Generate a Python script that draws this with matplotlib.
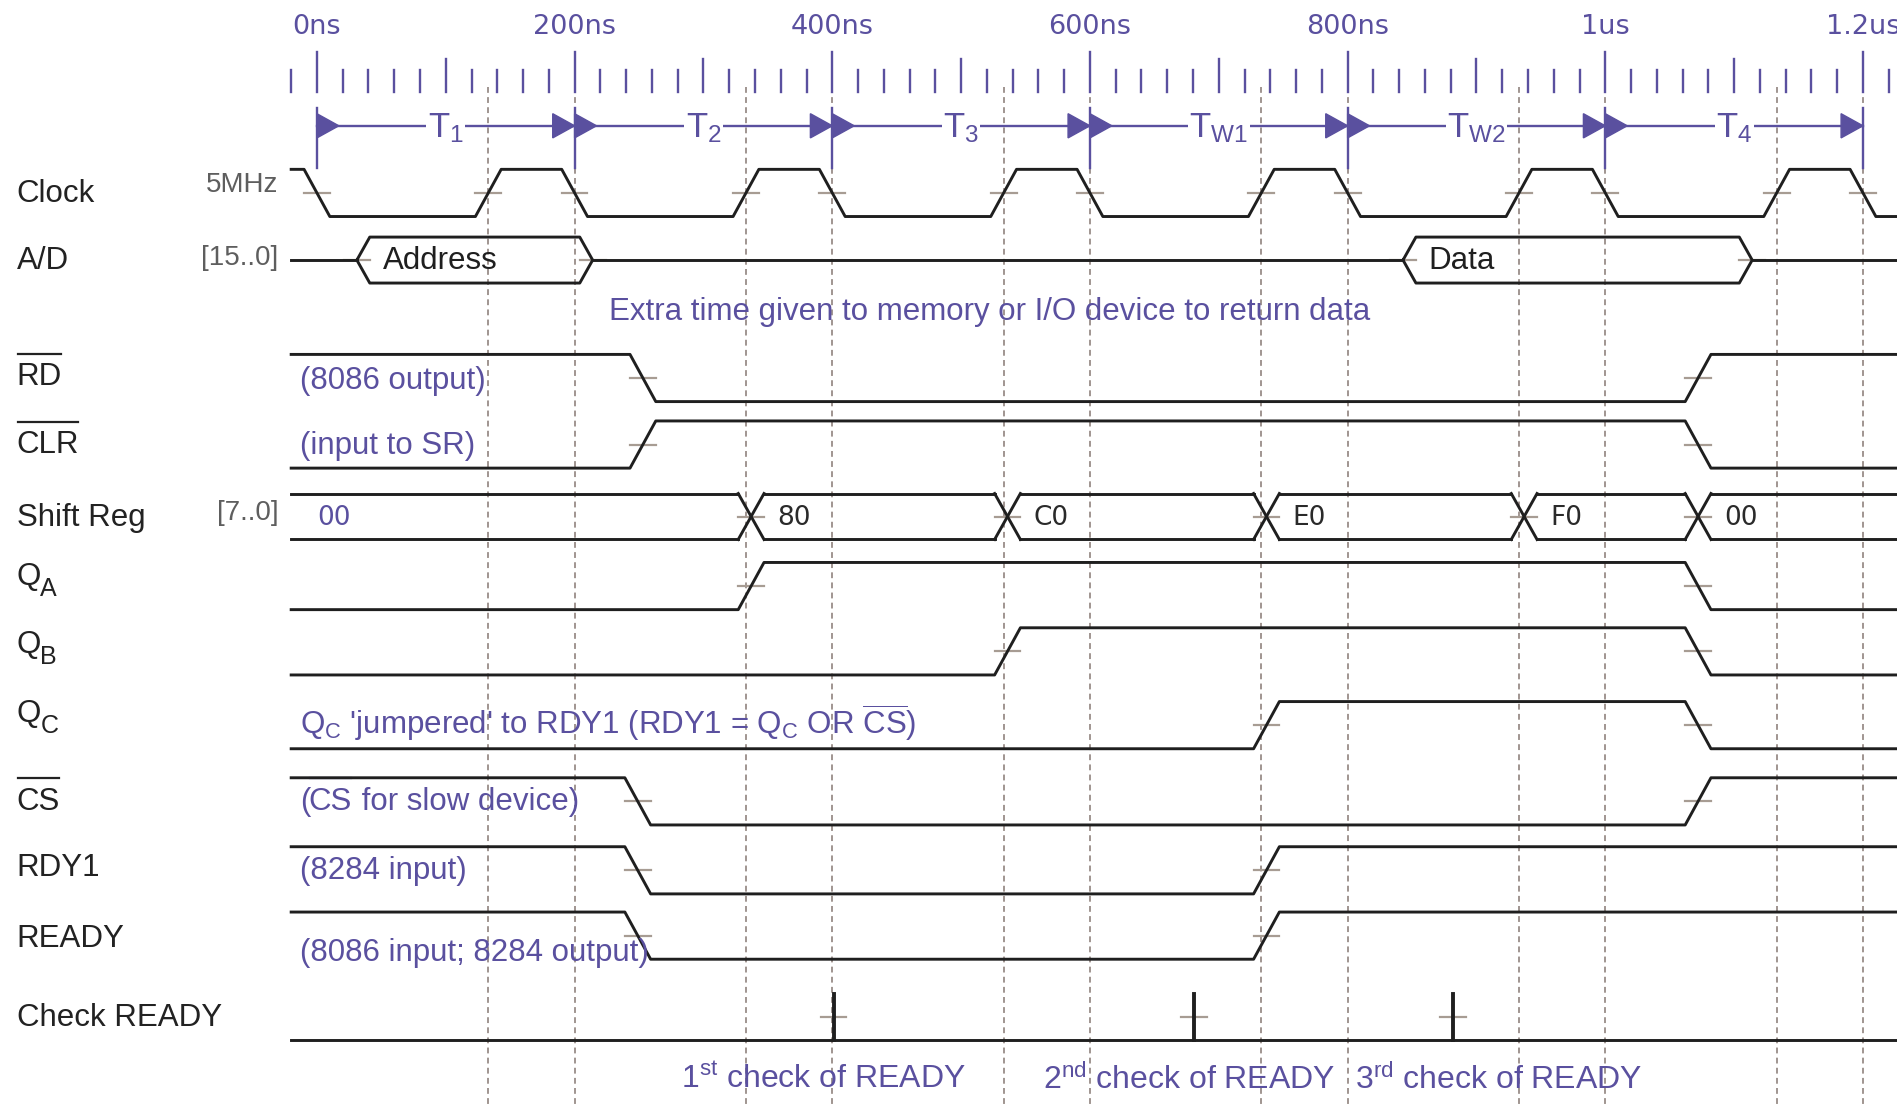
import matplotlib.pyplot as plt
import numpy as np
from matplotlib.patches import Polygon

plt.rcParams['font.family'] = ['Liberation Sans', 'DejaVu Sans']
plt.rcParams['mathtext.fontset'] = 'custom'
plt.rcParams['mathtext.rm'] = 'Liberation Sans'
plt.rcParams['mathtext.it'] = 'Liberation Sans:italic'
plt.rcParams['mathtext.bf'] = 'Liberation Sans:bold'

# --- time scale (ns) ---
time_labels = ["0ns", "200ns", "400ns", "600ns", "800ns", "1us", "1.2us"]
time_label_at = [0, 200, 400, 600, 800, 1000, 1200]
period_names = ["1", "2", "3", "W1", "W2", "4"]
period_bounds = [0, 200, 400, 600, 800, 1000, 1200]

# --- 5MHz clock edges (ns) ---
clock_fall = [0, 200, 400, 600, 800, 1000, 1200]
clock_rise = [133, 333, 533, 733, 933, 1133]

# --- digital signals: level at start + edge times (ns) ---
rd_start, rd_edges = 1, [253, 1072]
clr_start, clr_edges = 0, [253, 1072]
qa_start, qa_edges = 0, [337, 1072]
qb_start, qb_edges = 0, [536, 1072]
qc_start, qc_edges = 0, [737, 1072]
cs_start, cs_edges = 1, [249, 1072]
rdy1_start, rdy1_edges = 1, [249, 737]
ready_start, ready_edges = 1, [249, 737]

# --- buses ---
ad_windows = [(31, 214), (843, 1114)]
ad_values = ["Address", "Data"]
sr_changes = [337, 536, 737, 937, 1072]
sr_values = ["00", "80", "C0", "E0", "F0", "00"]

# --- READY sampling points ---
check_times = [401, 681, 882]
check_labels = [r"1$^{\mathrm{st}}$ check of READY",
                r"2$^{\mathrm{nd}}$ check of READY",
                r"3$^{\mathrm{rd}}$ check of READY"]
check_label_x = [393, 677, 917]

PURPLE = '#5a509f'
INK = '#1f1f1f'
TAN = '#a79c93'
DASH = '#a09590'
LW = 2.1

T0, T1 = -20, 1240   # where traces start / end
SLOPE = 10           # half transition width, ns
H = 39               # high-to-low distance (layout px)

fig = plt.figure(figsize=(18.97, 11.08), dpi=100)
ax = fig.add_axes([0, 0, 1, 1])
ax.set_xlim(-246, 1226.4)
ax.set_ylim(916, 0)
ax.axis('off')
renderer = fig.canvas.get_renderer()


def cross(t, y):
    ax.plot([t - 10, t + 10], [y, y], color=TAN, lw=1.6, zorder=2)


def wave(start, edges, top):
    lvl = start
    xs, ys = [T0], [top if lvl else top + H]
    for te in edges:
        y0 = top if lvl else top + H
        lvl = 1 - lvl
        y1 = top if lvl else top + H
        xs += [te - SLOPE, te + SLOPE]
        ys += [y0, y1]
        cross(te, top + H / 2)
    xs.append(T1)
    ys.append(top if lvl else top + H)
    ax.plot(xs, ys, color=INK, lw=LW, zorder=3)


def sub_label(x, y, main, sub, size, color, dx, dy):
    ax.text(x, y, main, color=color, fontsize=size, va='center')
    ax.annotate(sub, xy=(x, y), xytext=(dx, dy), textcoords='offset points',
                color=color, fontsize=size * 0.8, va='center')


def bar_label(x, y, s, bar_y, size, color):
    # active-low name with a bar drawn a little above the letters
    t = ax.text(x, y, s, color=color, fontsize=size, va='center')
    bb = t.get_window_extent(renderer).transformed(ax.transData.inverted())
    ax.plot([bb.x0 + 1, bb.x1 - 1], [bar_y, bar_y], color=color, lw=1.6)


# dashed guide lines at clock edges (after first rising edge)
guides = sorted(clock_rise + clock_fall[1:])
for t in guides:
    ax.plot([t, t], [72, 916], color=DASH, lw=1.4, dashes=(3, 2.2), zorder=1)

# time ruler
for t in np.arange(-20, 1221, 20):
    if t % 200 == 0:
        top = 43
    elif t % 100 == 0:
        top = 49
    else:
        top = 58
    ax.plot([t, t], [top, 76], color=PURPLE, lw=1.7)
for t, s in zip(time_label_at, time_labels):
    ax.text(t, 22, s, color=PURPLE, fontsize=19.5, family='DejaVu Sans',
            ha='center', va='center')

# bus cycle periods
ay = 104
for b in period_bounds:
    ax.plot([b, b], [89, 139], color=PURPLE, lw=1.7, zorder=4)
for i, name in enumerate(period_names):
    a, b = period_bounds[i], period_bounds[i + 1]
    ax.plot([a, b], [ay, ay], color=PURPLE, lw=1.7, zorder=4)
    ax.add_patch(Polygon([[a, ay - 10], [a, ay + 10], [a + 17, ay]],
                         color=PURPLE, zorder=4))
    ax.add_patch(Polygon([[b - 17, ay - 10], [b - 17, ay + 10], [b, ay]],
                         color=PURPLE, zorder=4))
    label = r"T$_{\mathrm{%s}}$" % name
    ax.text((a + b) / 2, ay + 2, label, color=PURPLE, fontsize=25,
            ha='center', va='center', zorder=5,
            bbox=dict(facecolor='white', edgecolor='none', pad=1))

# clock
clk_edges = sorted(clock_fall + clock_rise)
wave(1, clk_edges, 140)

# A/D bus
c, top, bot = 215, 196, 234
prev = T0
for (a, b), v in zip(ad_windows, ad_values):
    ax.plot([prev, a], [c, c], color=INK, lw=LW, zorder=3)
    ax.plot([a, a + SLOPE, b - SLOPE, b, b - SLOPE, a + SLOPE, a],
            [c, top, top, c, bot, bot, c], color=INK, lw=LW, zorder=3)
    cross(a, c)
    cross(b, c)
    ax.text(a + 20, c + 1, v, fontsize=22.5, color=INK, va='center', zorder=5)
    prev = b
ax.plot([prev, T1], [c, c], color=INK, lw=LW, zorder=3)

ax.text(227, 258, "Extra time given to memory or I/O device to return data",
        color=PURPLE, fontsize=22.5, va='center')

# control lines
wave(rd_start, rd_edges, 293)
wave(clr_start, clr_edges, 348)

# shift register bus
top, bot = 408, 446
c = (top + bot) / 2
bounds = [T0] + sr_changes + [T1]
for i in range(len(sr_values)):
    a, b = bounds[i], bounds[i + 1]
    xa = a + SLOPE if i > 0 else a
    xb = b - SLOPE if i < len(sr_values) - 1 else b
    ax.plot([xa, xb], [top, top], color=INK, lw=LW, zorder=3)
    ax.plot([xa, xb], [bot, bot], color=INK, lw=LW, zorder=3)
for t in sr_changes:
    ax.plot([t - SLOPE, t + SLOPE], [top, bot], color=INK, lw=LW, zorder=3)
    ax.plot([t - SLOPE, t + SLOPE], [bot, top], color=INK, lw=LW, zorder=3)
    cross(t, c)
ax.text(0, c + 1, sr_values[0], color=PURPLE, fontsize=19,
        family='DejaVu Sans', va='center')
for t, v in zip(sr_changes, sr_values[1:]):
    ax.text(t + 20, c + 1, v, color='#2a2a2a', fontsize=19,
            family='DejaVu Sans', va='center')

wave(qa_start, qa_edges, 465)
wave(qb_start, qb_edges, 519)
wave(qc_start, qc_edges, 580)
wave(cs_start, cs_edges, 643)
wave(rdy1_start, rdy1_edges, 700)
wave(ready_start, ready_edges, 754)

# READY checks
ax.plot([T0, T1], [860, 860], color=INK, lw=LW, zorder=3)
for t in check_times:
    ax.plot([t, t], [822, 860], color=INK, lw=2.8, zorder=3)
    cross(t, 841)
for x, s in zip(check_label_x, check_labels):
    ax.text(x, 893, s, color=PURPLE, fontsize=23, ha='center', va='center')

# notes next to traces
notes = [("(8086 output)", 315), ("(input to SR)", 369),
         (r"Q$_\mathrm{C}$ 'jumpered' to RDY1 (RDY1 = Q$_\mathrm{C}$ OR $\overline{\mathrm{CS}}$)", 597),
         ("(8284 input)", 720), ("(8086 input; 8284 output)", 788)]
for s, y in notes:
    ax.text(-13, y, s, color=PURPLE, fontsize=22.5, va='center', zorder=5)
ax.text(-13, 663, "(", color=PURPLE, fontsize=22.5, va='center', zorder=5)
bar_label(-6.5, 663, "CS", 643, 22.5, PURPLE)
ax.text(28, 663, " for slow device)", color=PURPLE, fontsize=22.5,
        va='center', zorder=5)

# signal names
names = [("Clock", 160), ("A/D", 216), ("Shift Reg", 428),
         ("RDY1", 718), ("READY", 776), ("Check READY", 842)]
for s, y in names:
    ax.text(-233, y, s, color='#222222', fontsize=22.5, va='center')
for s, y, bar_y in [("RD", 312, 293), ("CLR", 368, 349), ("CS", 663, 643)]:
    bar_label(-233, y, s, bar_y, 22.5, '#222222')
for sub, y in [("A", 477), ("B", 533), ("C", 590)]:
    sub_label(-233, y, "Q", sub, 22.5, '#222222', 17, -9)
for s, y in [("5MHz", 153), ("[15..0]", 213), ("[7..0]", 424)]:
    ax.text(-30, y, s, color='#5e5e5e', fontsize=20, ha='right', va='center')

fig.savefig('out.png', dpi=100)
